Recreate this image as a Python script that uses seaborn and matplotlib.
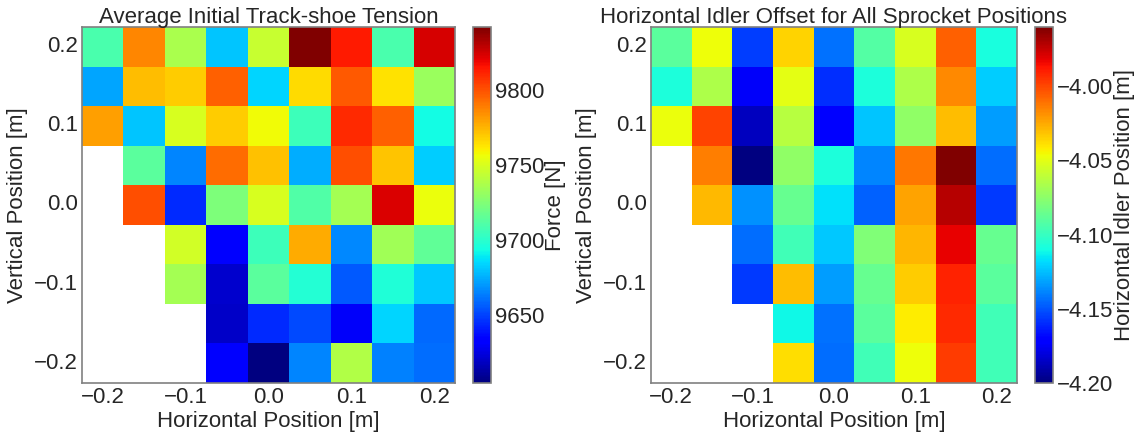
import numpy as np
import pandas as pd
import matplotlib
matplotlib.use("Agg")
import matplotlib.pyplot as plt
import seaborn as sns

sns.set_theme(style="white")
plt.rcParams['font.family'] = ['Liberation Sans', 'DejaVu Sans']
plt.rcParams['axes.unicode_minus'] = True

nan = np.nan
x_positions = [-0.2, -0.15, -0.1, -0.05, 0.0, 0.05, 0.1, 0.15, 0.2]
y_positions = [0.2, 0.15, 0.1, 0.05, 0.0, -0.05, -0.1, -0.15, -0.2]  # top to bottom

tension = [
    [9709, 9787, 9737, 9680, 9745, 9842, 9814, 9709, 9824],
    [9673, 9773, 9769, 9796, 9684, 9766, 9798, 9764, 9732],
    [9780, 9680, 9750, 9769, 9757, 9705, 9810, 9796, 9693],
    [nan, 9714, 9666, 9793, 9772, 9675, 9801, 9771, 9682],
    [nan, 9801, 9644, 9724, 9750, 9711, 9735, 9823, 9755],
    [nan, nan, 9748, 9633, 9705, 9778, 9667, 9734, 9716],
    [nan, nan, 9735, 9621, 9714, 9698, 9655, 9697, 9681],
    [nan, nan, nan, 9620, 9644, 9652, 9630, 9684, 9659],
    [nan, nan, nan, 9632, 9605, 9666, 9739, 9665, 9660],
]

idler_offset = [
    [-4.090, -4.047, -4.155, -4.035, -4.143, -4.092, -4.053, -4.006, -4.109],
    [-4.108, -4.065, -4.174, -4.050, -4.159, -4.108, -4.065, -4.017, -4.122],
    [-4.048, -3.999, -4.186, -4.063, -4.171, -4.124, -4.074, -4.030, -4.133],
    [nan, -4.014, -4.200, -4.074, -4.108, -4.139, -4.012, -3.960, -4.144],
    [nan, -4.029, -4.136, -4.086, -4.117, -4.147, -4.023, -3.972, -4.156],
    [nan, nan, -4.144, -4.097, -4.123, -4.079, -4.028, -3.982, -4.086],
    [nan, nan, -4.156, -4.030, -4.133, -4.086, -4.034, -3.990, -4.090],
    [nan, nan, nan, -4.111, -4.143, -4.090, -4.042, -3.992, -4.097],
    [nan, nan, nan, -4.038, -4.144, -4.097, -4.047, -3.997, -4.097],
]

tick_values = [-0.2, -0.1, 0.0, 0.1, 0.2]
cbar1_ticks = [9650, 9700, 9750, 9800]
cbar2_ticks = [-4.20, -4.15, -4.10, -4.05, -4.00]

FS = 16
W, H = 1142, 432
fig = plt.figure(figsize=(W / 100, H / 100), dpi=100)

def box(l, t, r, b):
    return [l / W, 1 - b / H, (r - l) / W, (b - t) / H]

ax1 = fig.add_axes(box(82, 27, 455, 383))
cax1 = fig.add_axes(box(473, 27, 491, 383))
ax2 = fig.add_axes(box(651, 27, 1017, 383))
cax2 = fig.add_axes(box(1035, 27, 1053, 383))

def fmt(v):
    s = f"{v:.1f}"
    return s.replace("-", "\u2212")

def draw(ax, cax, data, title, cbar_label, cticks, cfmt):
    df = pd.DataFrame(data, index=y_positions, columns=x_positions)
    sns.heatmap(df, ax=ax, cbar_ax=cax, cmap="jet", cbar=True)
    xt = [x_positions.index(v) + 0.5 for v in tick_values]
    yt = [y_positions.index(v) + 0.5 for v in tick_values]
    ax.set_xticks(xt)
    ax.set_xticklabels([fmt(v) for v in tick_values], fontsize=FS, rotation=0)
    ax.set_yticks(yt)
    ax.set_yticklabels([fmt(v) for v in tick_values], fontsize=FS, rotation=0)
    ax.tick_params(length=0, pad=3)
    ax.set_xlabel("Horizontal Position [m]", fontsize=FS, labelpad=2)
    ax.set_ylabel("Vertical Position [m]", fontsize=FS, labelpad=4)
    ax.set_title(title, fontsize=FS, pad=3)
    for sp in ax.spines.values():
        sp.set_visible(True)
        sp.set_color("#808080")
        sp.set_linewidth(1.2)
    cbar = ax.collections[0].colorbar
    cbar.set_ticks(cticks)
    cbar.set_ticklabels([cfmt(v) for v in cticks])
    cax.tick_params(length=0, pad=3, labelsize=FS)
    cbar.set_label(cbar_label, fontsize=FS, labelpad=0)
    cbar.outline.set_visible(True)
    cbar.outline.set_edgecolor("#808080")
    cbar.outline.set_linewidth(1.2)

draw(ax1, cax1, tension, "Average Initial Track-shoe Tension", "Force [N]",
     cbar1_ticks, lambda v: f"{v:d}")
draw(ax2, cax2, idler_offset, "Horizontal Idler Offset for All Sprocket Positions",
     "Horizontal Idler Position [m]", cbar2_ticks,
     lambda v: f"{v:.2f}".replace("-", "\u2212"))

fig.savefig("out.png", dpi=100)
